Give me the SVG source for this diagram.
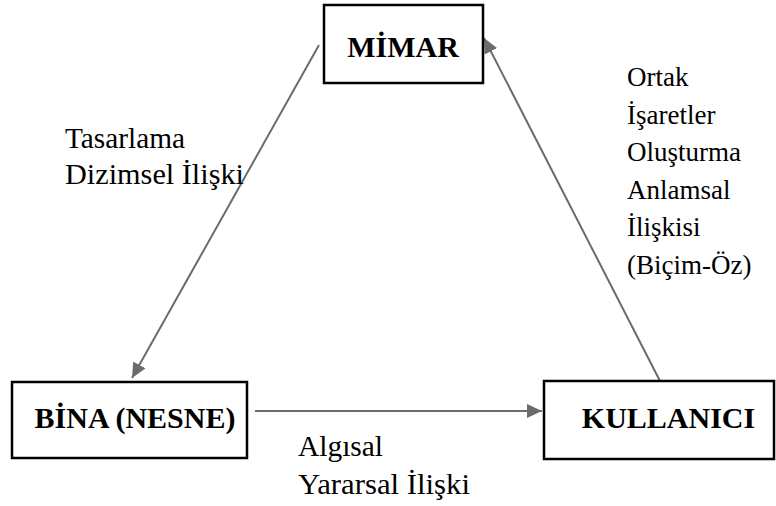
<svg xmlns="http://www.w3.org/2000/svg" width="776" height="506" viewBox="0 0 776 506">
  <style>
    .box { fill: #ffffff; stroke: #000000; stroke-width: 2.5; }
    .title { font-family: 'Liberation Serif', 'Times New Roman', serif; font-weight: bold; font-size: 30px; fill: #000000; text-anchor: middle; }
    .label { font-family: 'Liberation Serif', 'Times New Roman', serif; font-size: 29px; fill: #000000; }
    .label-sm { font-family: 'Liberation Serif', 'Times New Roman', serif; font-size: 27px; fill: #000000; }
    .conn { stroke: #6b6b6b; stroke-width: 2; fill: none; marker-end: url(#head); }
  </style>
  <defs>
    <marker id="head" viewBox="0 0 15 14" refX="15" refY="7" markerWidth="7.5" markerHeight="7" markerUnits="strokeWidth" orient="auto">
      <path d="M0,0 L15,7 L0,14 Z" fill="#6b6b6b"/>
    </marker>
  </defs>
  <rect width="776" height="506" fill="#ffffff"/>

  <g id="connectors">
    <line class="conn" x1="319" y1="45" x2="132" y2="378"/>
    <line class="conn" x1="660" y1="381" x2="484" y2="38"/>
    <line class="conn" x1="255" y1="411" x2="542" y2="411"/>
  </g>

  <g id="mimar">
    <rect class="box" x="324" y="5" width="159" height="78"/>
    <text class="title" x="403" y="57">MİMAR</text>
  </g>

  <g id="bina">
    <rect class="box" x="12" y="382" width="235" height="76"/>
    <text class="title" x="135" y="428">BİNA (NESNE)</text>
  </g>

  <g id="kullanici">
    <rect class="box" x="544" y="381" width="230" height="78"/>
    <text class="title" x="668.5" y="428">KULLANICI</text>
  </g>

  <g id="label-tasarlama">
    <text class="label" x="65" y="148" textLength="120" lengthAdjust="spacingAndGlyphs">Tasarlama</text>
    <text class="label" x="65" y="184" textLength="179" lengthAdjust="spacingAndGlyphs">Dizimsel İlişki</text>
  </g>

  <g id="label-ortak">
    <text class="label-sm" x="627" y="86">Ortak</text>
    <text class="label-sm" x="627" y="124">İşaretler</text>
    <text class="label-sm" x="627" y="161">Oluşturma</text>
    <text class="label-sm" x="627" y="199">Anlamsal</text>
    <text class="label-sm" x="627" y="236">İlişkisi</text>
    <text class="label-sm" x="627" y="274">(Biçim-Öz)</text>
  </g>

  <g id="label-algisal">
    <text class="label" x="298" y="456" textLength="85" lengthAdjust="spacingAndGlyphs">Algısal</text>
    <text class="label" x="298" y="494" textLength="172" lengthAdjust="spacingAndGlyphs">Yararsal İlişki</text>
  </g>
</svg>
